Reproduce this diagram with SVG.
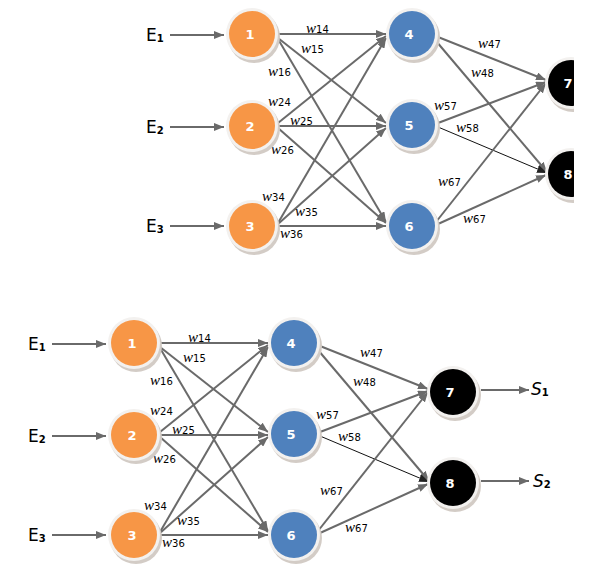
<svg xmlns="http://www.w3.org/2000/svg" width="596" height="569" viewBox="0 0 596 569">
<defs>
<marker id="ah" markerUnits="userSpaceOnUse" markerWidth="10" markerHeight="8" refX="10" refY="4" orient="auto"><path d="M0,0 L10,4 L0,8 z" fill="#6a6a6a"/></marker>
<marker id="ahk" markerUnits="userSpaceOnUse" markerWidth="10" markerHeight="8" refX="10" refY="4" orient="auto"><path d="M0,0 L10,4 L0,8 z" fill="#222"/></marker>
<clipPath id="topclip" clipPathUnits="userSpaceOnUse"><rect x="-200" y="250" width="656" height="350"/></clipPath>
<style>
.e{stroke:#6a6a6a;stroke-width:2;fill:none;marker-end:url(#ah)}
.k{stroke:#111;stroke-width:1;fill:none;marker-end:url(#ahk)}
.sh{fill:#d3ccc6}
.ring{fill:#f3f1ef}
.or{fill:#F79646}
.bl{fill:#4F81BD}
.bk{fill:#000}
.nl{font-family:"DejaVu Sans",sans-serif;font-weight:bold;font-size:13px;fill:#fff;text-anchor:middle}
.w{font-family:"Liberation Serif",serif;font-style:italic;font-size:15px;fill:#000}
.ws{font-family:"DejaVu Sans",sans-serif;font-style:normal;font-size:10px}
.E{font-family:"DejaVu Sans",sans-serif;font-size:17px;fill:#000}
.Es{font-size:10px;font-weight:bold}
.S{font-family:"DejaVu Sans",sans-serif;font-style:italic;font-size:17px;fill:#000}
</style>
</defs>
<rect width="596" height="569" fill="#fff"/>

<!-- Bottom diagram -->
<g id="bottom">
<g id="b-connectors">
<line class="e" x1="52" y1="344" x2="106" y2="344"/>
<line class="e" x1="52" y1="436" x2="106" y2="436"/>
<line class="e" x1="52" y1="535" x2="106" y2="535"/>
<line class="e" x1="160" y1="343" x2="268" y2="343"/>
<line class="e" x1="160" y1="347" x2="268" y2="432"/>
<line class="e" x1="160" y1="348" x2="268" y2="531"/>
<line class="e" x1="160" y1="432" x2="268" y2="345"/>
<line class="e" x1="160" y1="435" x2="268" y2="435"/>
<line class="e" x1="160" y1="437" x2="268" y2="532"/>
<line class="e" x1="160" y1="532" x2="268" y2="347"/>
<line class="e" x1="160" y1="533" x2="268" y2="437"/>
<line class="e" x1="160" y1="535" x2="268" y2="535"/>
<line class="e" x1="320" y1="346" x2="428" y2="389"/>
<line class="e" x1="318" y1="350" x2="429" y2="481"/>
<line class="e" x1="320" y1="432" x2="428" y2="391"/>
<line class="k" x1="320" y1="436" x2="429" y2="482"/>
<line class="e" x1="318" y1="531" x2="428" y2="392"/>
<line class="e" x1="320" y1="533" x2="428" y2="484"/>
<line class="e" x1="481" y1="390" x2="529" y2="390"/>
<line class="e" x1="481" y1="481" x2="529" y2="481"/>
</g>
<g id="b-labels">
<text class="E" x="28" y="350">E<tspan class="Es" dy="1">1</tspan></text>
<text class="E" x="28" y="442">E<tspan class="Es" dy="1">2</tspan></text>
<text class="E" x="28" y="541">E<tspan class="Es" dy="1">3</tspan></text>
<text class="S" x="531" y="395">S<tspan class="Es" font-style="normal" dy="1">1</tspan></text>
<text class="S" x="533" y="487">S<tspan class="Es" font-style="normal" dy="1">2</tspan></text>
<text class="w" x="188" y="342">w<tspan class="ws">14</tspan></text>
<text class="w" x="183" y="362">w<tspan class="ws">15</tspan></text>
<text class="w" x="150" y="385">w<tspan class="ws">16</tspan></text>
<text class="w" x="150" y="415">w<tspan class="ws">24</tspan></text>
<text class="w" x="172" y="434">w<tspan class="ws">25</tspan></text>
<text class="w" x="153" y="463">w<tspan class="ws">26</tspan></text>
<text class="w" x="144" y="510">w<tspan class="ws">34</tspan></text>
<text class="w" x="177" y="525">w<tspan class="ws">35</tspan></text>
<text class="w" x="162" y="547">w<tspan class="ws">36</tspan></text>
<text class="w" x="360" y="357">w<tspan class="ws">47</tspan></text>
<text class="w" x="353" y="386">w<tspan class="ws">48</tspan></text>
<text class="w" x="316" y="419">w<tspan class="ws">57</tspan></text>
<text class="w" x="338" y="441">w<tspan class="ws">58</tspan></text>
<text class="w" x="320" y="495">w<tspan class="ws">67</tspan></text>
<text class="w" x="345" y="532">w<tspan class="ws">67</tspan></text>
</g>
<g id="b1"><circle class="sh" cx="136" cy="346" r="26"/><circle class="ring" cx="134" cy="343" r="26"/><circle class="or" cx="134" cy="343" r="23"/><text class="nl" x="132" y="348">1</text></g>
<g id="b2"><circle class="sh" cx="136" cy="438" r="26"/><circle class="ring" cx="134" cy="435" r="26"/><circle class="or" cx="134" cy="435" r="23"/><text class="nl" x="132" y="440">2</text></g>
<g id="b3"><circle class="sh" cx="136" cy="538" r="26"/><circle class="ring" cx="134" cy="535" r="26"/><circle class="or" cx="134" cy="535" r="23"/><text class="nl" x="132" y="540">3</text></g>
<g id="b4"><circle class="sh" cx="296" cy="346" r="26"/><circle class="ring" cx="294" cy="343" r="26"/><circle class="bl" cx="294" cy="343" r="23"/><text class="nl" x="291" y="348">4</text></g>
<g id="b5"><circle class="sh" cx="296" cy="437" r="26"/><circle class="ring" cx="294" cy="434" r="26"/><circle class="bl" cx="294" cy="434" r="23"/><text class="nl" x="291" y="439">5</text></g>
<g id="b6"><circle class="sh" cx="296" cy="538" r="26"/><circle class="ring" cx="294" cy="535" r="26"/><circle class="bl" cx="294" cy="535" r="23"/><text class="nl" x="291" y="540">6</text></g>
<g id="b7"><circle class="sh" cx="455" cy="395" r="26"/><circle class="ring" cx="453" cy="392" r="26"/><circle class="bk" cx="453" cy="392" r="23"/><text class="nl" x="450" y="397">7</text></g>
<g id="b8"><circle class="sh" cx="455" cy="486" r="26"/><circle class="ring" cx="453" cy="483" r="26"/><circle class="bk" cx="453" cy="483" r="23"/><text class="nl" x="450" y="488">8</text></g>
</g>

<!-- Top diagram (same network, shifted; right edge cropped) -->
<g id="top" transform="translate(118,-309)" clip-path="url(#topclip)">
<g id="t-connectors">
<line class="e" x1="52" y1="344" x2="106" y2="344"/>
<line class="e" x1="52" y1="436" x2="106" y2="436"/>
<line class="e" x1="52" y1="535" x2="106" y2="535"/>
<line class="e" x1="160" y1="343" x2="268" y2="343"/>
<line class="e" x1="160" y1="347" x2="268" y2="432"/>
<line class="e" x1="160" y1="348" x2="268" y2="531"/>
<line class="e" x1="160" y1="432" x2="268" y2="345"/>
<line class="e" x1="160" y1="435" x2="268" y2="435"/>
<line class="e" x1="160" y1="437" x2="268" y2="532"/>
<line class="e" x1="160" y1="532" x2="268" y2="347"/>
<line class="e" x1="160" y1="533" x2="268" y2="437"/>
<line class="e" x1="160" y1="535" x2="268" y2="535"/>
<line class="e" x1="320" y1="346" x2="428" y2="389"/>
<line class="e" x1="318" y1="350" x2="429" y2="481"/>
<line class="e" x1="320" y1="432" x2="428" y2="391"/>
<line class="k" x1="320" y1="436" x2="429" y2="482"/>
<line class="e" x1="318" y1="531" x2="428" y2="392"/>
<line class="e" x1="320" y1="533" x2="428" y2="484"/>
</g>
<g id="t-labels">
<text class="E" x="28" y="350">E<tspan class="Es" dy="1">1</tspan></text>
<text class="E" x="28" y="442">E<tspan class="Es" dy="1">2</tspan></text>
<text class="E" x="28" y="541">E<tspan class="Es" dy="1">3</tspan></text>
<text class="w" x="188" y="342">w<tspan class="ws">14</tspan></text>
<text class="w" x="183" y="362">w<tspan class="ws">15</tspan></text>
<text class="w" x="150" y="385">w<tspan class="ws">16</tspan></text>
<text class="w" x="150" y="415">w<tspan class="ws">24</tspan></text>
<text class="w" x="172" y="434">w<tspan class="ws">25</tspan></text>
<text class="w" x="153" y="463">w<tspan class="ws">26</tspan></text>
<text class="w" x="144" y="510">w<tspan class="ws">34</tspan></text>
<text class="w" x="177" y="525">w<tspan class="ws">35</tspan></text>
<text class="w" x="162" y="547">w<tspan class="ws">36</tspan></text>
<text class="w" x="360" y="357">w<tspan class="ws">47</tspan></text>
<text class="w" x="353" y="386">w<tspan class="ws">48</tspan></text>
<text class="w" x="316" y="419">w<tspan class="ws">57</tspan></text>
<text class="w" x="338" y="441">w<tspan class="ws">58</tspan></text>
<text class="w" x="320" y="495">w<tspan class="ws">67</tspan></text>
<text class="w" x="345" y="532">w<tspan class="ws">67</tspan></text>
</g>
<g id="t1"><circle class="sh" cx="136" cy="346" r="26"/><circle class="ring" cx="134" cy="343" r="26"/><circle class="or" cx="134" cy="343" r="23"/><text class="nl" x="132" y="348">1</text></g>
<g id="t2"><circle class="sh" cx="136" cy="438" r="26"/><circle class="ring" cx="134" cy="435" r="26"/><circle class="or" cx="134" cy="435" r="23"/><text class="nl" x="132" y="440">2</text></g>
<g id="t3"><circle class="sh" cx="136" cy="538" r="26"/><circle class="ring" cx="134" cy="535" r="26"/><circle class="or" cx="134" cy="535" r="23"/><text class="nl" x="132" y="540">3</text></g>
<g id="t4"><circle class="sh" cx="296" cy="346" r="26"/><circle class="ring" cx="294" cy="343" r="26"/><circle class="bl" cx="294" cy="343" r="23"/><text class="nl" x="291" y="348">4</text></g>
<g id="t5"><circle class="sh" cx="296" cy="437" r="26"/><circle class="ring" cx="294" cy="434" r="26"/><circle class="bl" cx="294" cy="434" r="23"/><text class="nl" x="291" y="439">5</text></g>
<g id="t6"><circle class="sh" cx="296" cy="538" r="26"/><circle class="ring" cx="294" cy="535" r="26"/><circle class="bl" cx="294" cy="535" r="23"/><text class="nl" x="291" y="540">6</text></g>
<g id="t7"><circle class="sh" cx="455" cy="395" r="26"/><circle class="ring" cx="453" cy="392" r="26"/><circle class="bk" cx="453" cy="392" r="23"/><text class="nl" x="450" y="397">7</text></g>
<g id="t8"><circle class="sh" cx="455" cy="486" r="26"/><circle class="ring" cx="453" cy="483" r="26"/><circle class="bk" cx="453" cy="483" r="23"/><text class="nl" x="450" y="488">8</text></g>
</g>
</svg>
